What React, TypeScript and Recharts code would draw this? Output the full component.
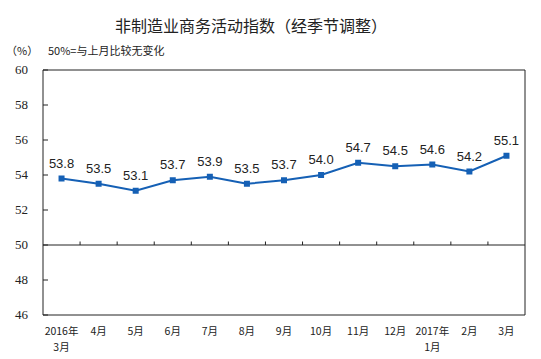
import React from "react";
import { LineChart, Line, XAxis, YAxis, LabelList, ReferenceLine, ReferenceArea } from "recharts";

const months = ["2016年\n3月", "4月", "5月", "6月", "7月", "8月", "9月", "10月", "11月", "12月", "2017年\n1月", "2月", "3月"];
const index = [53.8, 53.5, 53.1, 53.7, 53.9, 53.5, 53.7, 54.0, 54.7, 54.5, 54.6, 54.2, 55.1];
const yTicks = [46, 48, 50, 52, 54, 56, 58, 60];

const data = months.map((m, i) => ({ i, month: m, value: index[i] }));
const xTicks = data.map((d) => d.i);
const boundaries = data.slice(1).map((d) => d.i - 0.5);

const serif = "'Liberation Serif', 'Times New Roman', serif";
const cjk = "'Noto Sans CJK SC', sans-serif";

const XTick = ({ x, y, payload }: any) => {
  const lines = months[payload.value].split("\n");
  return (
    <g>
      {lines.map((l, k) => (
        <text key={k} x={x} y={y + 12 + k * 15.5} textAnchor="middle" fontSize={10.5} fontFamily={cjk} fill="#222">
          {l}
        </text>
      ))}
    </g>
  );
};

const YTick = ({ x, y, payload }: any) => (
  <g>
    <text x={x} y={y} dy={4} textAnchor="end" fontSize={13} fontFamily={serif} fill="#222">
      {payload.value}
    </text>
    <line x1={x + 15} x2={x + 20} y1={y} y2={y} stroke="#222" />
  </g>
);

export default function App() {
  return (
    <div style={{ position: "absolute", left: 0, top: 0, width: 541, height: 359, background: "#fff" }}>
      <div style={{ position: "absolute", left: 0, width: 502, top: 13, textAlign: "center", fontFamily: cjk, fontSize: 16, color: "#222" }}>
        非制造业商务活动指数（经季节调整）
      </div>
      <div style={{ position: "absolute", left: 6, top: 42, fontFamily: cjk, fontSize: 11, color: "#222" }}>（%）</div>
      <div style={{ position: "absolute", left: 48, top: 42, fontFamily: cjk, fontSize: 11, color: "#222" }}>50%=与上月比较无变化</div>
      <LineChart width={541} height={359} data={data} margin={{ top: 70, right: 16, left: 0, bottom: 0 }}>
        <XAxis
          dataKey="i"
          type="number"
          domain={[-0.5, 12.5]}
          ticks={xTicks}
          interval={0}
          height={44}
          axisLine={false}
          tickLine={false}
          tick={<XTick />}
        />
        <YAxis
          type="number"
          domain={[46, 60]}
          ticks={yTicks}
          interval={0}
          width={43}
          axisLine={false}
          tickLine={false}
          tickSize={0}
          tickMargin={15}
          tick={<YTick />}
        />
        <ReferenceArea x1={-0.5} x2={12.5} y1={46} y2={60} fill="none" stroke="#222" strokeWidth={1} fillOpacity={0} />
        <ReferenceLine y={50} stroke="#222" strokeWidth={1} />
        {boundaries.map((b) => (
          <ReferenceLine key={b} segment={[{ x: b, y: 50 }, { x: b, y: 50.2 }]} stroke="#222" strokeWidth={1} />
        ))}
        <Line
          dataKey="value"
          stroke="#1560b5"
          strokeWidth={2}
          isAnimationActive={false}
          dot={({ cx, cy, index: k }: any) => (
            <rect key={k} x={cx - 3} y={cy - 3} width={6} height={6} fill="#1560b5" />
          )}
          activeDot={false}
        >
          <LabelList dataKey="value" position="top" offset={11} fontSize={13} fontFamily="'Liberation Sans', Arial, sans-serif" fill="#222" formatter={(v: any) => Number(v).toFixed(1)} />
        </Line>
      </LineChart>
    </div>
  );
}
